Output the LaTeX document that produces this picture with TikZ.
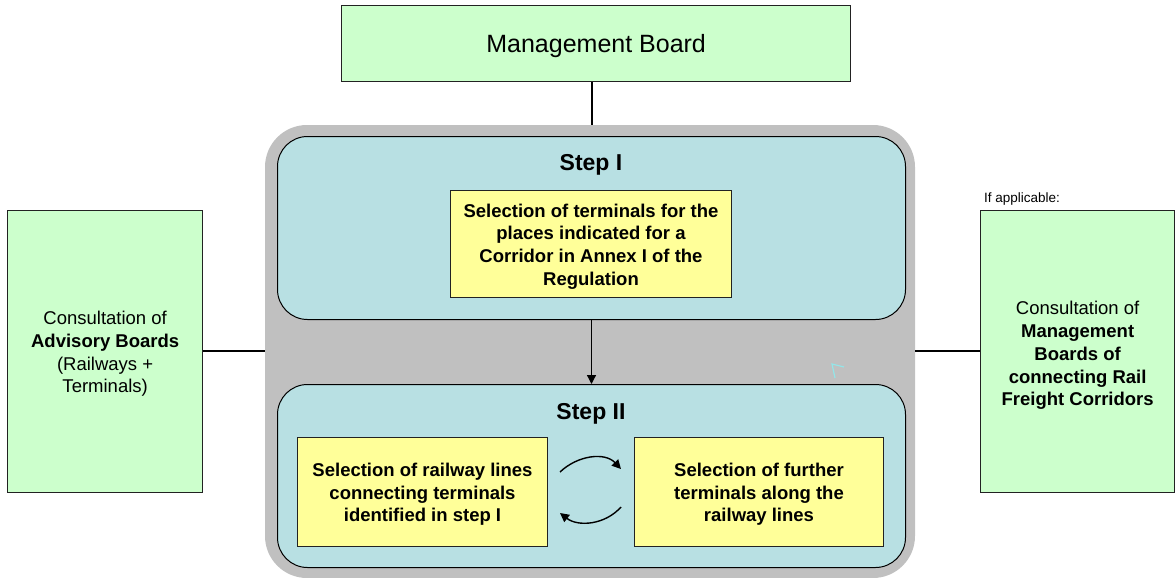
\documentclass[tikz,border=0pt]{standalone}
\usepackage{fontspec}
\setmainfont{Liberation Sans}
\usetikzlibrary{arrows.meta}
\definecolor{boardgreen}{HTML}{CCFFCC}
\definecolor{stepblue}{HTML}{B8E0E3}
\definecolor{framegray}{HTML}{C0C0C0}
\definecolor{boxyellow}{HTML}{FFFF99}
\definecolor{edge}{HTML}{222222}
\tikzset{
  greenbox/.style={draw=edge, line width=1.3pt, fill=boardgreen, minimum width=#1, inner sep=0pt},
  yellowbox/.style={draw=edge, line width=1pt, fill=boxyellow, inner sep=0pt},
  ytext/.style={align=center, font=\fontsize{18.5}{22.7}\selectfont\bfseries},
  stepbox/.style={draw=black, line width=1pt, fill=stepblue, rounded corners=30pt, inner sep=0pt},
  body/.style={font=\fontsize{18.5}{22.7}\selectfont, align=center},
  conn/.style={line width=1.3pt, draw=black},
  arr/.style={line width=1.3pt, -{Triangle[length=9pt,width=9pt]}},
}
\begin{document}
\begin{tikzpicture}[x=1pt,y=-1pt]
\useasboundingbox (0,0) rectangle (1176,578);
% gray frame
\fill[framegray, rounded corners=42pt] (265,125) rectangle (915,578);
% management board
\node[greenbox=509pt, minimum height=76pt, anchor=north west] (mb) at (341,5) {};
\node[font=\fontsize{25}{30}\selectfont] (mbt) at ([yshift=-2pt]mb.center) {Management Board};
% step boxes
\node[stepbox, minimum width=628pt, minimum height=183pt, anchor=north west] (s1) at (277,136) {};
\node[stepbox, minimum width=628pt, minimum height=183pt, anchor=north west] (s2) at (277,384) {};
\node[font=\fontsize{23}{27}\selectfont\bfseries] (s1t) at (591,165) {Step I};
\node[font=\fontsize{23}{27}\selectfont\bfseries] (s2t) at (591,414) {Step II};
\node[yellowbox, minimum width=281pt, minimum height=107pt, anchor=north west] (y1) at (450,190) {};
\node[ytext] (y1t) at ([yshift=-2.5pt]y1.center) {Selection of terminals for the\\places indicated for a\\Corridor in Annex I of the\\Regulation};
\node[yellowbox, minimum width=250pt, minimum height=109pt, anchor=north west] (y2) at (297,437) {};
\node[ytext] (y2t) at ([yshift=-2.5pt]y2.center) {Selection of railway lines\\connecting terminals\\identified in step I};
\node[yellowbox, minimum width=249pt, minimum height=109pt, anchor=north west] (y3) at (634,437) {};
\node[ytext] (y3t) at ([yshift=-2.5pt]y3.center) {Selection of further\\terminals along the\\railway lines};
% side boxes
\node[greenbox=195pt, minimum height=282pt, anchor=north west] (lb) at (7,210) {};
\node[body] (lbt) at ([yshift=-2.5pt]lb.center) {Consultation of\\\textbf{Advisory Boards}\\(Railways +\\Terminals)};
\node[greenbox=194pt, minimum height=282pt, anchor=north west] (rb) at (980,210) {};
\node[body] (rbt) at ([yshift=-4pt]rb.center) {Consultation of\\\textbf{Management}\\\textbf{Boards of}\\\textbf{connecting Rail}\\\textbf{Freight Corridors}};
\node[anchor=south west, inner sep=0pt, font=\fontsize{13.5}{16}\selectfont] (ifa) at (984,206) {If applicable:};
% connectors
\coordinate (ftop) at (592,125);
\coordinate (fleft) at (265,351);
\coordinate (fright) at (915,351);
\draw[conn] (mb.south -| ftop) -- (ftop);
\draw[conn] (lb.east |- fleft) -- (fleft);
\draw[conn] (fright) -- (rb.west |- fright);
\draw[arr] (s1.south) -- (s2.north);
% cycle arrows
\coordinate (a1) at (560,472);
\coordinate (a2) at (621,469);
\coordinate (b1) at (621,507);
\coordinate (b2) at (560,513);
\draw[arr, line width=1.4pt] (a1) .. controls (578,455) and (605,452) .. (a2);
\draw[arr, line width=1.4pt] (b1) .. controls (605,525) and (578,527) .. (b2);
% stray mark
\draw[stepblue!80!cyan, line width=1.2pt] (844,367) -- (832,364) -- (835,378);
\end{tikzpicture}
\end{document}
